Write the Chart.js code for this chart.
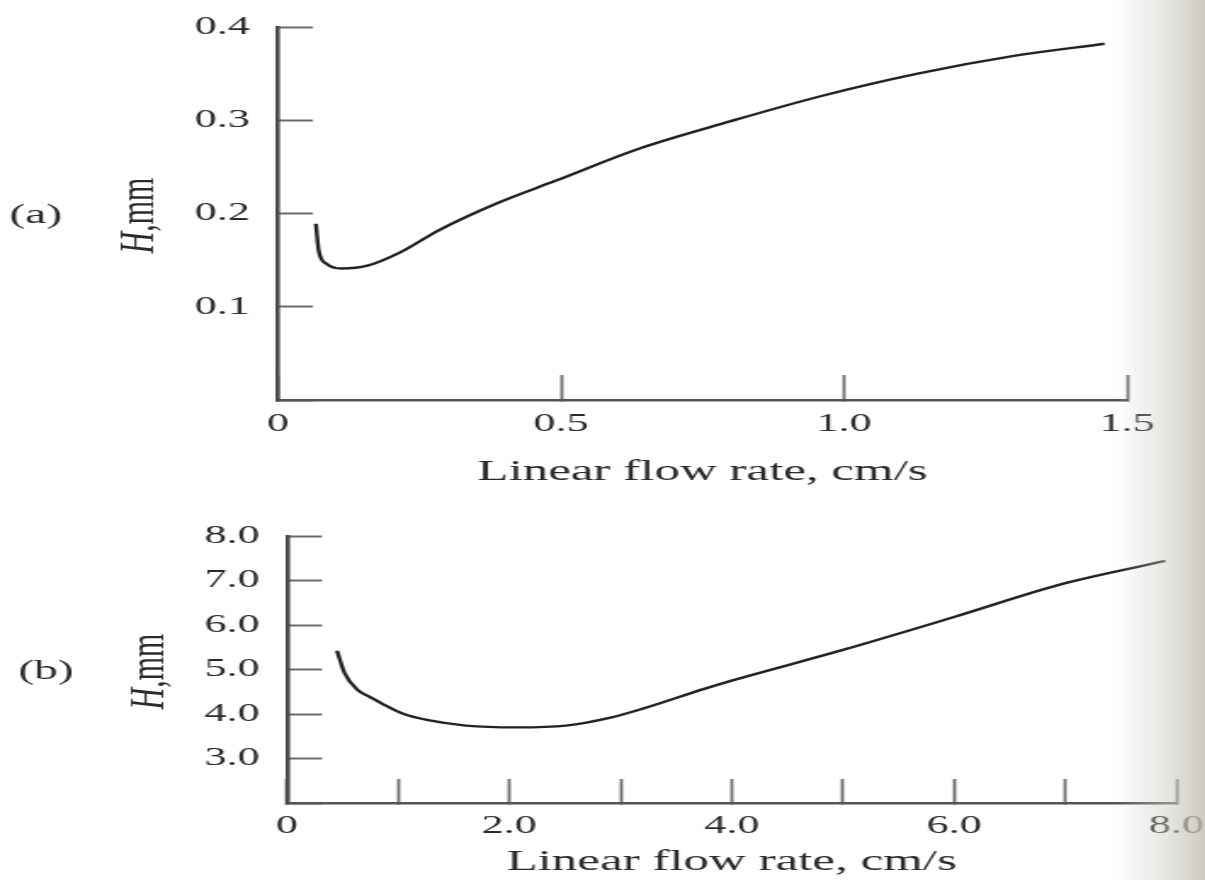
<!DOCTYPE html>
<html>
<head>
<meta charset="utf-8">
<title>H vs linear flow rate</title>
<script src="https://cdn.jsdelivr.net/npm/chart.js@4.4.1/dist/chart.umd.min.js"></script>
<style>
  html, body { margin: 0; padding: 0; background: #fff; }
  #page { position: relative; width: 1205px; height: 880px; overflow: hidden; }
  /* the scan is stretched sideways, so the charts are drawn narrow and widened */
  .wide { position: absolute; left: 0; width: 709px; transform: scaleX(1.7); transform-origin: 0 0; }
  #boxA { top: 0; height: 500px; }
  #boxB { top: 500px; height: 380px; }
  .spine { position: absolute; top: 0; right: 0; width: 90px; height: 880px; pointer-events: none;
    background: linear-gradient(to right, rgba(205,202,192,0), rgba(205,202,192,0.5) 60%, rgba(195,192,183,0.85)); }
</style>
</head>
<body>
<div id="page">
  <div class="wide" id="boxA"><canvas id="chartA" width="709" height="500"></canvas></div>
  <div class="wide" id="boxB"><canvas id="chartB" width="709" height="380"></canvas></div>
  <div class="spine"></div>
</div>
<script>
// (a) H, mm against linear flow rate, cm/s
const flowA = [0.067, 0.072, 0.086, 0.112, 0.158, 0.215, 0.284, 0.387, 0.49, 0.64, 0.80, 0.96, 1.13, 1.30, 1.46];
const heightA = [0.189, 0.160, 0.146, 0.141, 0.144, 0.158, 0.182, 0.211, 0.235, 0.270, 0.299, 0.326, 0.350, 0.369, 0.382];
const xTicksA = ['0', '0.5', '1.0', '1.5'];
const yTicksA = ['', '0.1', '0.2', '0.3', '0.4'];

// (b)
const flowB = [0.45, 0.52, 0.64, 0.74, 0.85, 1.04, 1.27, 1.61, 2.06, 2.51, 2.91, 3.2, 3.76, 4.0, 5.0, 6.0, 7.0, 7.9];
const heightB = [5.42, 4.91, 4.53, 4.39, 4.24, 4.01, 3.86, 3.74, 3.70, 3.74, 3.92, 4.12, 4.57, 4.75, 5.44, 6.18, 6.94, 7.44];
const xTicksB = ['0', '', '2.0', '', '4.0', '', '6.0', '', '8.0'];
const yTicksB = ['', '3.0', '4.0', '5.0', '6.0', '7.0', '8.0'];

const ink = '#2a2a2a';
const serif = '"Liberation Serif", "Times New Roman", serif';

// "(a)" tag and the rotated "H,mm" label with an italic H
const sideLabels = {
  id: 'sideLabels',
  afterDraw(chart, args, opts) {
    const { ctx, chartArea } = chart;
    const y = (chartArea.top + chartArea.bottom) / 2 + opts.shift;
    ctx.save();
    ctx.fillStyle = ink;
    ctx.textBaseline = 'middle';
    ctx.textAlign = 'center';
    ctx.font = '28px ' + serif;
    ctx.fillText(opts.tag, opts.tagX, y);

    ctx.translate(opts.titleX, y);
    ctx.rotate(-Math.PI / 2);
    ctx.textAlign = 'left';
    ctx.font = 'italic 30px ' + serif;
    const hw = ctx.measureText('H').width;
    ctx.font = '30px ' + serif;
    const rw = ctx.measureText(',mm').width;
    const start = -(hw + rw) / 2;
    ctx.font = 'italic 30px ' + serif;
    ctx.fillText('H', start, 0);
    ctx.font = '30px ' + serif;
    ctx.fillText(',mm', start + hw, 0);
    ctx.restore();
  }
};

function makeChart(id, xs, ys, o) {
  const points = xs.map((x, i) => ({ x: x, y: ys[i] }));
  return new Chart(document.getElementById(id), {
    type: 'scatter',
    data: {
      datasets: [{
        data: points,
        showLine: true,
        borderColor: '#222',
        borderWidth: 2.4,
        pointRadius: 0,
        cubicInterpolationMode: 'monotone'
      }]
    },
    options: {
      responsive: false,
      animation: false,
      events: [],
      layout: { padding: { left: 0, right: o.padRight, top: o.padTop, bottom: 0 } },
      plugins: {
        legend: { display: false },
        tooltip: { enabled: false },
        sideLabels: o.side
      },
      scales: {
        x: {
          type: 'linear',
          min: 0,
          max: o.xMax,
          afterBuildTicks: s => { s.ticks = o.xLabels.map((t, i) => ({ value: i * o.xStep })); },
          ticks: {
            autoSkip: false,
            maxRotation: 0,
            padding: o.xPad,
            color: ink,
            font: { family: serif, size: 26 },
            callback: (v, i) => o.xLabels[i]
          },
          grid: { drawOnChartArea: false, tickLength: -o.xTick, tickWidth: 1.8, tickColor: '#6a6a6a' },
          border: { color: '#555', width: 2.6 },
          title: {
            display: true,
            text: 'Linear flow rate, cm/s',
            color: ink,
            font: { family: serif, size: 30 },
            padding: { top: 0, bottom: o.titlePad }
          },
          // fixed box; the tick padding must not push the plot area in
          afterFit: s => { s.height = o.xHeight; s.paddingLeft = 0; s.paddingRight = 0; }
        },
        y: {
          type: 'linear',
          min: o.yMin,
          max: o.yMax,
          afterBuildTicks: s => { s.ticks = o.yLabels.map((t, i) => ({ value: o.yMin + i * o.yStep })); },
          ticks: {
            autoSkip: false,
            padding: o.yPad,
            color: ink,
            font: { family: serif, size: 26 },
            callback: (v, i) => o.yLabels[i]
          },
          grid: { drawOnChartArea: false, tickLength: -20.6, tickWidth: 2, tickColor: '#6a6a6a' },
          border: { color: '#4a4a4a', width: 2.6 },
          afterFit: s => { s.width = o.yWidth; s.paddingTop = 0; s.paddingBottom = 0; }
        }
      }
    },
    plugins: [sideLabels]
  });
}

makeChart('chartA', flowA, heightA, {
  xMax: 1.5, xStep: 0.5, xLabels: xTicksA,
  yMin: 0, yMax: 0.4, yStep: 0.1, yLabels: yTicksA,
  padTop: 27, padRight: 46, yWidth: 163.5, xHeight: 100,
  xTick: 25, xPad: 34, yPad: 37, titlePad: 10,
  side: { tag: '(a)', tagX: 21, titleX: 82, shift: 2 }
});

makeChart('chartB', flowB, heightB, {
  xMax: 8, xStep: 1, xLabels: xTicksB,
  yMin: 2, yMax: 8, yStep: 1, yLabels: yTicksB,
  padTop: 36, padRight: 17, yWidth: 168.8, xHeight: 77,
  xTick: 24, xPad: 32, yPad: 36.6, titlePad: 0,
  side: { tag: '(b)', tagX: 27, titleX: 88, shift: 2 }
});
</script>
</body>
</html>
